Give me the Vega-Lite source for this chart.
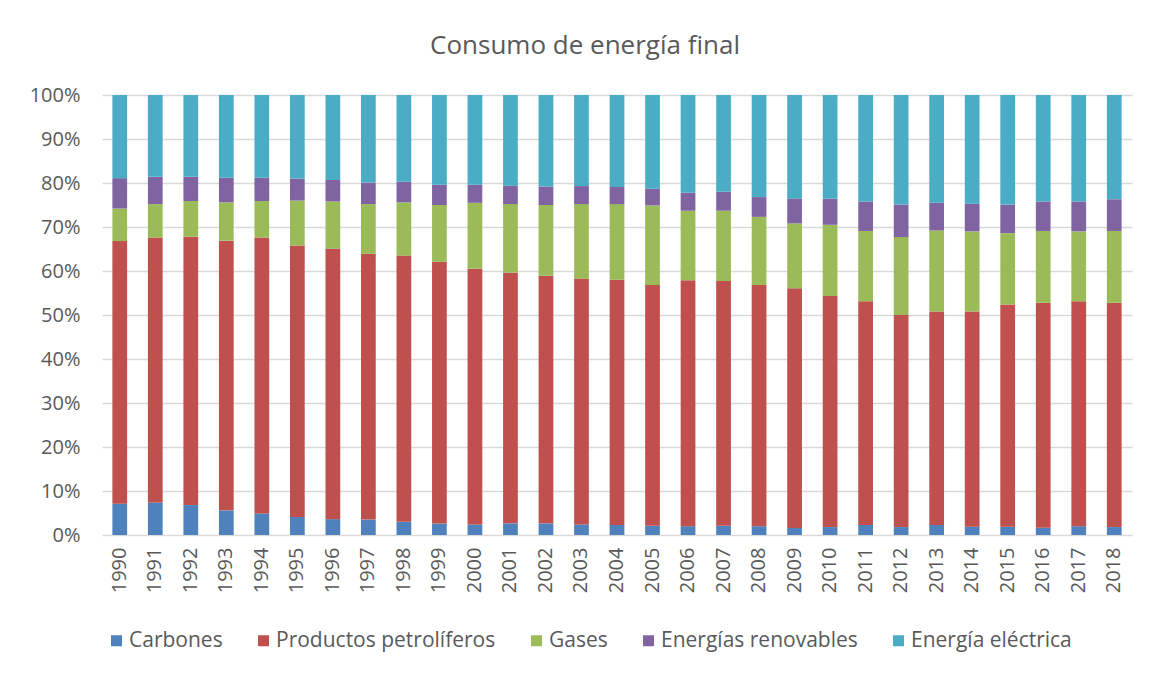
{
  "$schema": "https://vega.github.io/schema/vega-lite/v6.json",
  "width": 1030,
  "height": 440,
  "autosize": "none",
  "padding": {"left": 102, "top": 95, "right": 20, "bottom": 140},
  "background": "white",
  "title": {
    "text": "Consumo de energía final",
    "font": "Open Sans",
    "fontSize": 26,
    "fontWeight": "normal",
    "color": "#595959",
    "anchor": "middle",
    "frame": "group",
    "dx": -32,
    "offset": 26
  },
  "datasets": {
    "orden": [
      {"Fuente": "Carbones", "orden": 1},
      {"Fuente": "Productos petrolíferos", "orden": 2},
      {"Fuente": "Gases", "orden": 3},
      {"Fuente": "Energías renovables", "orden": 4},
      {"Fuente": "Energía eléctrica", "orden": 5}
    ]
  },
  "data": {
    "values": [
      {"Año": "1990", "Carbones": 7.1, "Productos petrolíferos": 59.7, "Gases": 7.4, "Energías renovables": 6.9, "Energía eléctrica": 18.9},
      {"Año": "1991", "Carbones": 7.4, "Productos petrolíferos": 60.2, "Gases": 7.6, "Energías renovables": 6.2, "Energía eléctrica": 18.6},
      {"Año": "1992", "Carbones": 6.8, "Productos petrolíferos": 61.0, "Gases": 8.1, "Energías renovables": 5.5, "Energía eléctrica": 18.6},
      {"Año": "1993", "Carbones": 5.6, "Productos petrolíferos": 61.3, "Gases": 8.7, "Energías renovables": 5.6, "Energía eléctrica": 18.8},
      {"Año": "1994", "Carbones": 4.9, "Productos petrolíferos": 62.7, "Gases": 8.3, "Energías renovables": 5.3, "Energía eléctrica": 18.8},
      {"Año": "1995", "Carbones": 4.1, "Productos petrolíferos": 61.7, "Gases": 10.2, "Energías renovables": 5.0, "Energía eléctrica": 19.0},
      {"Año": "1996", "Carbones": 3.6, "Productos petrolíferos": 61.5, "Gases": 10.7, "Energías renovables": 4.9, "Energía eléctrica": 19.3},
      {"Año": "1997", "Carbones": 3.5, "Productos petrolíferos": 60.4, "Gases": 11.3, "Energías renovables": 4.9, "Energía eléctrica": 19.9},
      {"Año": "1998", "Carbones": 3.0, "Productos petrolíferos": 60.5, "Gases": 12.1, "Energías renovables": 4.7, "Energía eléctrica": 19.7},
      {"Año": "1999", "Carbones": 2.6, "Productos petrolíferos": 59.5, "Gases": 12.9, "Energías renovables": 4.6, "Energía eléctrica": 20.4},
      {"Año": "2000", "Carbones": 2.4, "Productos petrolíferos": 58.1, "Gases": 15.0, "Energías renovables": 4.1, "Energía eléctrica": 20.4},
      {"Año": "2001", "Carbones": 2.65, "Productos petrolíferos": 56.95, "Gases": 15.6, "Energías renovables": 4.2, "Energía eléctrica": 20.6},
      {"Año": "2002", "Carbones": 2.65, "Productos petrolíferos": 56.25, "Gases": 16.1, "Energías renovables": 4.2, "Energía eléctrica": 20.8},
      {"Año": "2003", "Carbones": 2.4, "Productos petrolíferos": 55.9, "Gases": 16.9, "Energías renovables": 4.1, "Energía eléctrica": 20.7},
      {"Año": "2004", "Carbones": 2.3, "Productos petrolíferos": 55.7, "Gases": 17.2, "Energías renovables": 3.9, "Energía eléctrica": 20.9},
      {"Año": "2005", "Carbones": 2.1, "Productos petrolíferos": 54.7, "Gases": 18.1, "Energías renovables": 3.8, "Energía eléctrica": 21.3},
      {"Año": "2006", "Carbones": 2.0, "Productos petrolíferos": 55.9, "Gases": 15.8, "Energías renovables": 4.1, "Energía eléctrica": 22.2},
      {"Año": "2007", "Carbones": 2.1, "Productos petrolíferos": 55.6, "Gases": 16.0, "Energías renovables": 4.3, "Energía eléctrica": 22.0},
      {"Año": "2008", "Carbones": 2.0, "Productos petrolíferos": 54.8, "Gases": 15.5, "Energías renovables": 4.5, "Energía eléctrica": 23.2},
      {"Año": "2009", "Carbones": 1.6, "Productos petrolíferos": 54.5, "Gases": 14.7, "Energías renovables": 5.7, "Energía eléctrica": 23.5},
      {"Año": "2010", "Carbones": 1.8, "Productos petrolíferos": 52.5, "Gases": 16.2, "Energías renovables": 5.9, "Energía eléctrica": 23.6},
      {"Año": "2011", "Carbones": 2.3, "Productos petrolíferos": 50.8, "Gases": 16.0, "Energías renovables": 6.7, "Energía eléctrica": 24.2},
      {"Año": "2012", "Carbones": 1.8, "Productos petrolíferos": 48.2, "Gases": 17.7, "Energías renovables": 7.4, "Energía eléctrica": 24.9},
      {"Año": "2013", "Carbones": 2.3, "Productos petrolíferos": 48.5, "Gases": 18.4, "Energías renovables": 6.3, "Energía eléctrica": 24.5},
      {"Año": "2014", "Carbones": 1.9, "Productos petrolíferos": 48.9, "Gases": 18.2, "Energías renovables": 6.3, "Energía eléctrica": 24.7},
      {"Año": "2015", "Carbones": 1.9, "Productos petrolíferos": 50.5, "Gases": 16.2, "Energías renovables": 6.5, "Energía eléctrica": 24.9},
      {"Año": "2016", "Carbones": 1.65, "Productos petrolíferos": 51.15, "Gases": 16.3, "Energías renovables": 6.7, "Energía eléctrica": 24.2},
      {"Año": "2017", "Carbones": 2.0, "Productos petrolíferos": 51.1, "Gases": 15.9, "Energías renovables": 6.8, "Energía eléctrica": 24.2},
      {"Año": "2018", "Carbones": 1.8, "Productos petrolíferos": 51.0, "Gases": 16.3, "Energías renovables": 7.2, "Energía eléctrica": 23.7}
    ]
  },
  "transform": [
    {"fold": ["Carbones", "Productos petrolíferos", "Gases", "Energías renovables", "Energía eléctrica"], "as": ["Fuente", "Valor"]},
    {"lookup": "Fuente", "from": {"data": {"name": "orden"}, "key": "Fuente", "fields": ["orden"]}}
  ],
  "mark": {"type": "bar", "width": {"band": 0.415}},
  "encoding": {
    "x": {
      "field": "Año",
      "type": "ordinal",
      "scale": {"paddingInner": 0, "paddingOuter": 0},
      "axis": {
        "title": null,
        "labelAngle": -90,
        "labelFont": "Open Sans",
        "labelFontSize": 20,
        "labelColor": "#595959",
        "labelPadding": 12,
        "ticks": false,
        "domain": false,
        "grid": false
      }
    },
    "y": {
      "field": "Valor",
      "type": "quantitative",
      "stack": "normalize",
      "scale": {"domain": [0, 1]},
      "axis": {
        "title": null,
        "format": ".0%",
        "values": [0, 0.1, 0.2, 0.3, 0.4, 0.5, 0.6, 0.7, 0.8, 0.9, 1],
        "labelFont": "Open Sans",
        "labelFontSize": 20,
        "labelColor": "#595959",
        "labelPadding": 22,
        "ticks": false,
        "domain": false,
        "grid": true,
        "gridColor": "#D9D9D9",
        "gridWidth": 1.3
      }
    },
    "order": {"field": "orden", "type": "quantitative", "sort": "ascending"},
    "color": {
      "field": "Fuente",
      "type": "nominal",
      "sort": ["Carbones", "Productos petrolíferos", "Gases", "Energías renovables", "Energía eléctrica"],
      "scale": {
        "domain": ["Carbones", "Productos petrolíferos", "Gases", "Energías renovables", "Energía eléctrica"],
        "range": ["#4F81BD", "#C0504D", "#9BBB59", "#8064A2", "#4BACC6"]
      },
      "legend": {
        "title": null,
        "orient": "none",
        "direction": "horizontal",
        "legendX": 4,
        "legendY": 535,
        "symbolType": "square",
        "symbolSize": 121,
        "symbolStrokeWidth": 0,
        "symbolOpacity": 1,
        "labelFont": "Open Sans",
        "labelFontSize": 21,
        "labelColor": "#595959",
        "labelOffset": 2,
        "columnPadding": 30,
        "labelLimit": 400
      }
    }
  },
  "config": {
    "view": {"stroke": null}
  }
}
